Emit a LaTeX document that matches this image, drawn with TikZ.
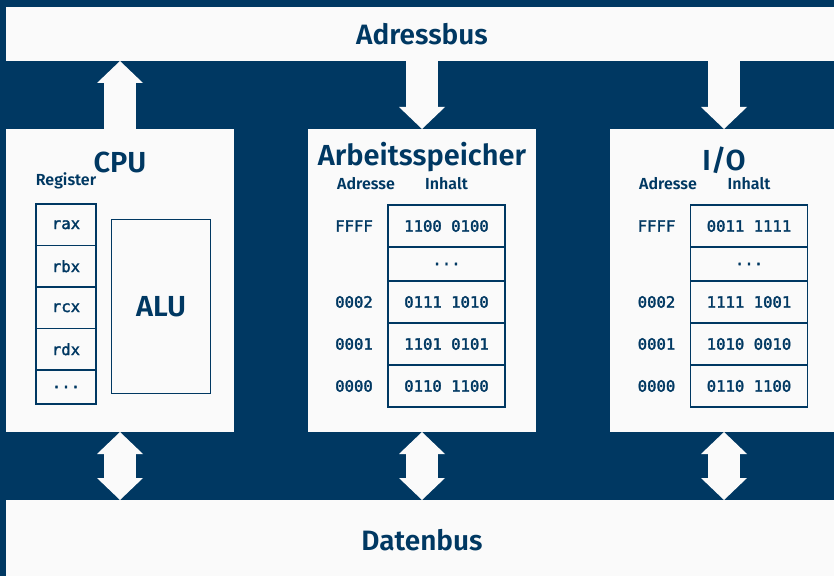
\documentclass[tikz,border=0pt]{standalone}
\usepackage{fontspec}
\setmainfont{Fira Sans}[BoldFont={Fira Sans SemiBold}]
\setmonofont{DejaVu Sans Mono}[FakeBold=2]
\usetikzlibrary{positioning,arrows.meta}
\definecolor{navy}{HTML}{003862}
\definecolor{paper}{HTML}{FAFAFA}

\begin{document}
\begin{tikzpicture}[x=0.5pt, y=-0.5pt,
    bus/.style={fill=paper, text=navy, font=\bfseries\fontsize{14}{16}\selectfont,
      minimum width=416pt, minimum height=27pt, anchor=north west, inner sep=0pt, outer sep=0pt},
    unit/.style={fill=paper, minimum width=114pt, minimum height=151.5pt,
      anchor=north west, inner sep=0pt, outer sep=0pt},
    title/.style={text=navy, font=\bfseries\fontsize{14.5}{16}\selectfont, anchor=base, inner sep=0pt},
    head/.style={text=navy, font=\bfseries\fontsize{8}{9}\selectfont, anchor=base, inner sep=0pt},
    reg/.style={draw=navy, line width=0.6pt, text=navy, font=\ttfamily\fontsize{7.8}{9}\selectfont,
      minimum width=30pt, minimum height=20.75pt, anchor=north, inner sep=0pt, outer sep=0pt},
    cell/.style={reg, minimum width=58.5pt, minimum height=21pt},
    dots/.style={minimum height=17pt},
    addr/.style={text=navy, font=\ttfamily\fontsize{7.8}{9}\selectfont, inner sep=0pt},
    tip/.tip={Triangle[width=23pt, length=11pt, line width=0pt]},
    bus arrow/.style={draw=paper, fill=paper, line width=16pt, -tip},
    both arrow/.style={bus arrow, tip-tip}
  ]
  \useasboundingbox (0,0) rectangle (834,576);
  \fill[navy] (0,0) rectangle (834,576);

  % buses
  \node[bus] (abus) at (6,7) {Adressbus};
  \node[bus, minimum height=40pt] (dbus) at (6,500) {Datenbus};

  % units
  \node[unit] (cpu) at (6,129) {};
  \node[unit] (ram) at (308,129) {};
  \node[unit] (io) at (610,129) {};

  \node[title] (cputitle) at (120,173) {CPU};
  \node[title] (ramtitle) at (422,166) {Arbeitsspeicher};
  \node[title] (iotitle) at (724,170.5) {I/O};

  % CPU: registers and ALU
  \node[head] (reghead) at (66,186) {Register};
  \node[reg] (rax) at (66,204) {rax};
  \node[reg, below=0pt of rax] (rbx) {rbx};
  \node[reg, below=0pt of rbx] (rcx) {rcx};
  \node[reg, below=0pt of rcx] (rdx) {rdx};
  \node[reg, dots, below=0pt of rdx] (rmore) {...};
  \node[draw=navy, line width=0.6pt, minimum width=49.5pt, minimum height=87pt, anchor=north west,
    inner sep=0pt, text=navy, font=\bfseries\fontsize{14.5}{16}\selectfont] (alu) at (111,219) {ALU};

  % main memory
  \node[head] (ramaddr) at (366,190) {Adresse};
  \node[head] (ramdata) at (446.5,190) {Inhalt};
  \node[cell] (mffff) at (446.5,205) {1100 0100};
  \node[cell, dots, below=0pt of mffff] (mmore) {...};
  \node[cell, below=0pt of mmore] (m2) {0111 1010};
  \node[cell, below=0pt of m2] (m1) {1101 0101};
  \node[cell, below=0pt of m1] (m0) {0110 1100};
  \node[addr] at ([xshift=-17pt]mffff.west) {FFFF};
  \node[addr] at ([xshift=-17pt]m2.west) {0002};
  \node[addr] at ([xshift=-17pt]m1.west) {0001};
  \node[addr] at ([xshift=-17pt]m0.west) {0000};

  % I/O
  \node[head] (ioaddr) at (668,190) {Adresse};
  \node[head] (iodata) at (749,190) {Inhalt};
  \node[cell] (pffff) at (749,205) {0011 1111};
  \node[cell, dots, below=0pt of pffff] (pmore) {...};
  \node[cell, below=0pt of pmore] (p2) {1111 1001};
  \node[cell, below=0pt of p2] (p1) {1010 0010};
  \node[cell, below=0pt of p1] (p0) {0110 1100};
  \node[addr] at ([xshift=-17pt]pffff.west) {FFFF};
  \node[addr] at ([xshift=-17pt]p2.west) {0002};
  \node[addr] at ([xshift=-17pt]p1.west) {0001};
  \node[addr] at ([xshift=-17pt]p0.west) {0000};

  % bus connections
  \draw[bus arrow] (cpu.north) -- (cpu.north |- abus.south);
  \draw[bus arrow] (ram.north |- abus.south) -- (ram.north);
  \draw[bus arrow] (io.north |- abus.south) -- (io.north);
  \draw[both arrow] (cpu.south) -- (cpu.south |- dbus.north);
  \draw[both arrow] (ram.south) -- (ram.south |- dbus.north);
  \draw[both arrow] (io.south) -- (io.south |- dbus.north);
\end{tikzpicture}
\end{document}
